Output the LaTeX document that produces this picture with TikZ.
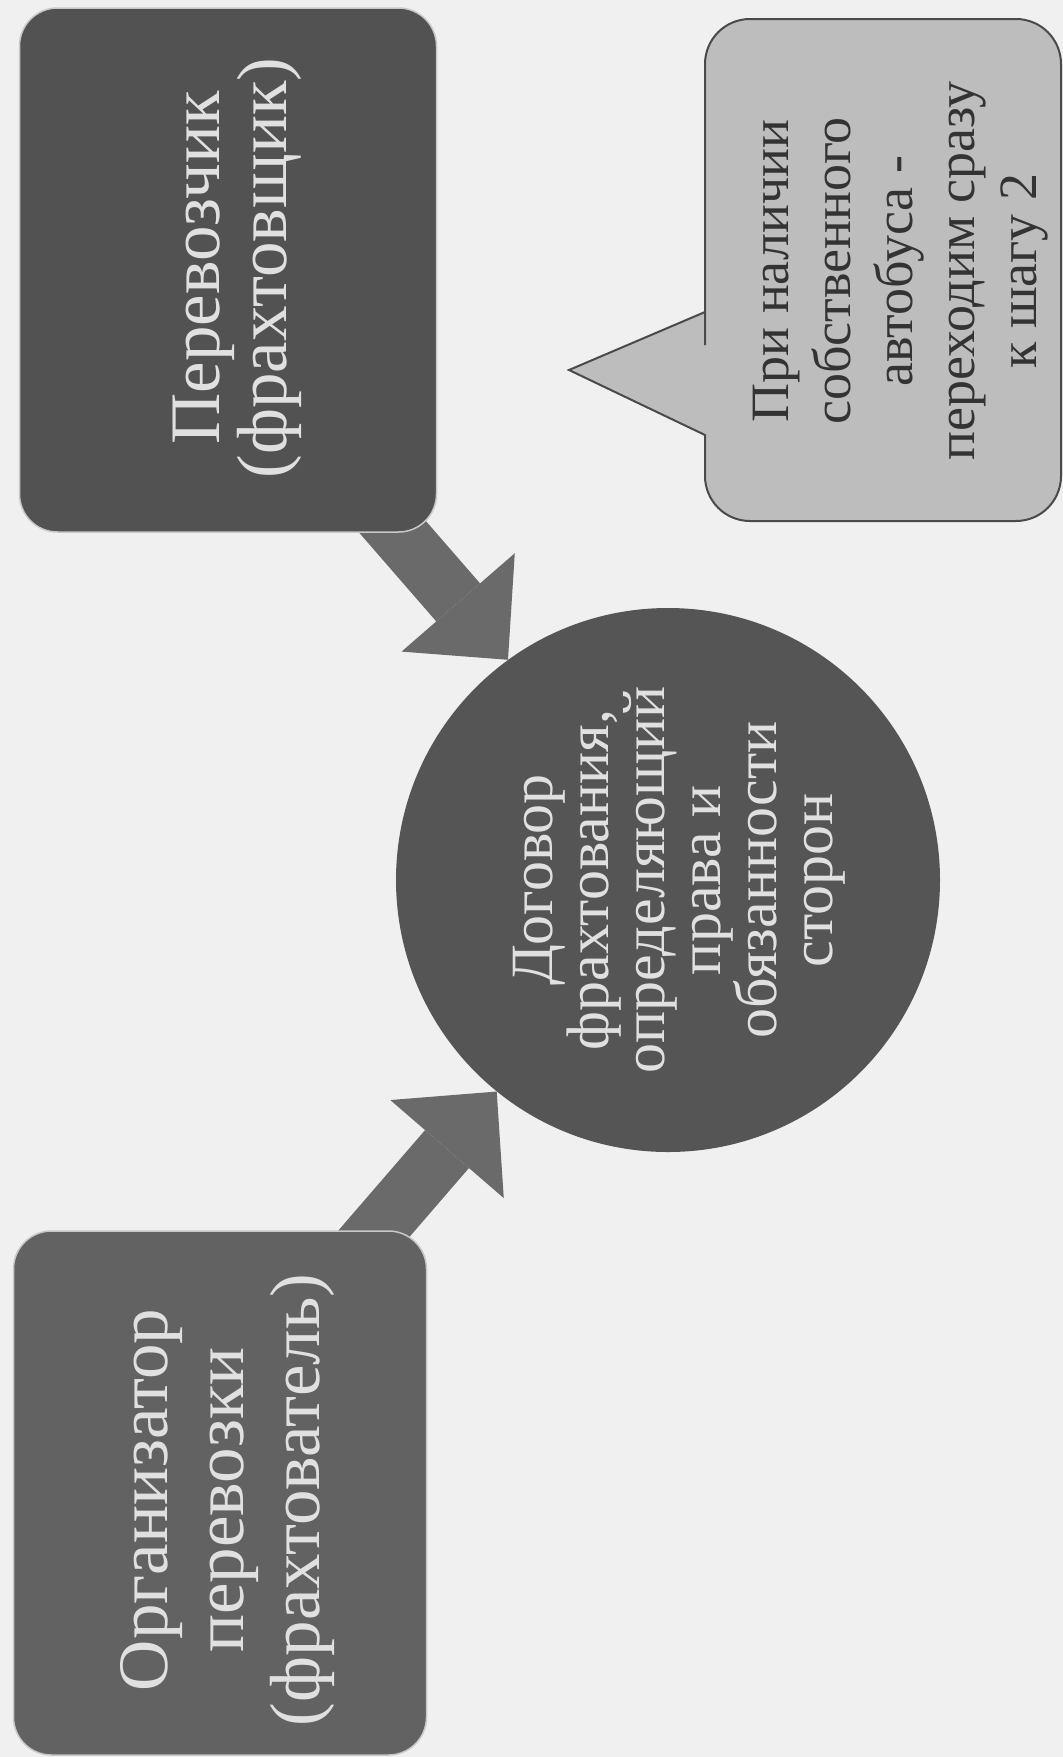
\documentclass[tikz,border=0pt]{standalone}
\usepackage{fontspec}
\setmainfont{Liberation Serif}
\usetikzlibrary{arrows.meta}
\pgfdeclarelayer{bglayer}
\pgfdeclarelayer{arrowlayer}
\pgfsetlayers{bglayer,arrowlayer,main}
\definecolor{paper}{HTML}{F0F0F0}
\definecolor{topfill}{HTML}{525252}
\definecolor{botfill}{HTML}{626262}
\definecolor{circfill}{HTML}{555555}
\definecolor{arrowgray}{HTML}{6A6A6A}
\definecolor{notefill}{HTML}{BDBDBD}
\definecolor{noteedge}{HTML}{4A4A4A}
\definecolor{lighttext}{HTML}{E0E0E0}
\definecolor{darktext}{HTML}{333333}
\definecolor{boxedge}{HTML}{C8C8C8}
\begin{document}
\begin{tikzpicture}[x=1pt,y=-1pt,
  darkbox/.style={rectangle, rounded corners=38pt, inner sep=0pt, draw=boxedge, line width=1.5pt},
  bigtext/.style={rotate=90, align=center, text=lighttext, inner sep=0pt, font=\fontsize{71}{67}\selectfont},
  circtext/.style={rotate=90, align=center, text=lighttext, inner sep=0pt, font=\fontsize{60}{56}\selectfont},
  notetext/.style={rotate=90, align=center, text=darktext, inner sep=0pt, font=\fontsize{54}{62}\selectfont},
  blockarrow/.style={line width=58pt, draw=arrowgray, -{Triangle[width=150pt,length=76pt,line width=0pt]}}]
\begin{pgfonlayer}{bglayer}
\fill[paper] (0,0) rectangle (1063,1757);
\end{pgfonlayer}
\useasboundingbox (0,0) rectangle (1063,1757);
% shapes
\node[darkbox, fill=topfill, minimum width=417pt, minimum height=524pt] (carrier) at (228,270) {};
\node[darkbox, fill=botfill, minimum width=413pt, minimum height=524pt] (charterer) at (220,1493) {};
\node[circle, fill=circfill, minimum size=544pt, inner sep=0pt] (contract) at (668,880) {};
% callout
\coordinate (notetip) at (569,370);
\draw[fill=notefill, draw=noteedge, line width=2pt]
  (705,312) -- (notetip) -- (705,435) -- (705,440) [rounded corners=45pt] -- (705,521) -- (1061,521) -- (1061,19) -- (705,19) -- (705,300) [sharp corners] -- cycle;
% texts
\node[bigtext] (carriertext) at (237,268) {Перевозчик\\(фрахтовщик)};
\node[bigtext, font=\fontsize{71}{76}\selectfont] (chartertext) at (228,1500) {Организатор\\перевозки\\(фрахтователь)};
\node[circtext] (contracttext) at (679,880) {Договор\\фрахтования,\\определяющий\\права и\\обязанности\\сторон};
\node[notetext] (notelabel) at (901,271) {При наличии\\собственного\\автобуса -\\переходим сразу\\к шагу 2};
% arrows
\coordinate (carrierout) at (344,471);
\coordinate (charterout) at (327,1288);
\begin{pgfonlayer}{arrowlayer}
\draw[blockarrow] (carrierout) -- (contract.126);
\draw[blockarrow] (charterout) -- (contract.231);
\end{pgfonlayer}
\end{tikzpicture}
\end{document}
